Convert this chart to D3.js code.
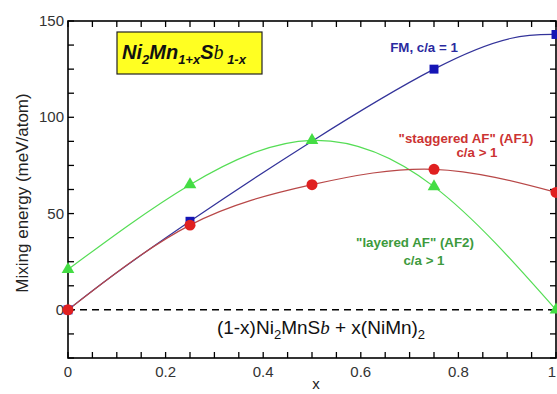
<!DOCTYPE html>
<html><head><meta charset="utf-8">
<script src="https://cdn.jsdelivr.net/npm/d3@7"></script>
<style>body{margin:0;background:#fff}svg{display:block}</style>
</head><body>
<svg id="c" width="557" height="394"></svg>
<script>
const xsFM = [0, 0.25, 0.75, 1];
const fmValues = [0, 46, 125, 143];
const xsAF1 = [0, 0.25, 0.5, 0.75, 1];
const af1Values = [0, 44, 65, 73, 61];
const xsAF2 = [0, 0.25, 0.5, 0.75, 1];
const af2Values = [21, 65, 88, 64, 0];
const xTickValues = [0, 0.2, 0.4, 0.6, 0.8, 1];
const xTickLabels = ["0", "0.2", "0.4", "0.6", "0.8", "1"];
const yTickValues = [0, 50, 100, 150];

const svg = d3.select("#c");
const L = 68, R = 556, T = 21, B = 358;
const x = d3.scaleLinear().domain([0, 1]).range([L, R]);
const y = d3.scaleLinear().domain([-25, 150]).range([B, T]);
const font = "Liberation Sans, Arial, sans-serif";

// zero dashed line
svg.append("line").attr("x1", L).attr("x2", R).attr("y1", y(0)).attr("y2", y(0))
  .attr("stroke", "#000").attr("stroke-width", 1.5).attr("stroke-dasharray", "7,5");

// ticks
const minorX = d3.range(0, 1.0001, 0.05);
const minorY = d3.range(-25, 150.001, 12.5);
const g = svg.append("g");
minorX.forEach(v => {
  g.append("line").attr("x1", x(v)).attr("x2", x(v)).attr("y1", B).attr("y2", B - 6).attr("stroke", "#000").attr("stroke-width", 1.3);
  g.append("line").attr("x1", x(v)).attr("x2", x(v)).attr("y1", T).attr("y2", T + 6).attr("stroke", "#000").attr("stroke-width", 1.3);
});
minorY.forEach(v => {
  g.append("line").attr("x1", L).attr("x2", L + 6).attr("y1", y(v)).attr("y2", y(v)).attr("stroke", "#000").attr("stroke-width", 1.3);
  g.append("line").attr("x1", R).attr("x2", R - 6).attr("y1", y(v)).attr("y2", y(v)).attr("stroke", "#000").attr("stroke-width", 1.3);
});
svg.append("rect").attr("x", L).attr("y", T).attr("width", R - L).attr("height", B - T)
  .attr("fill", "none").attr("stroke", "#000").attr("stroke-width", 1.6);

// tick labels
xTickValues.forEach((v, i) => {
  const last = i === xTickValues.length - 1;
  svg.append("text").attr("x", last ? 556 : x(v)).attr("y", 377).attr("text-anchor", last ? "end" : "middle")
    .attr("font-family", font).attr("font-size", 15).attr("fill", "#333").text(xTickLabels[i]);
});
yTickValues.forEach(v => {
  svg.append("text").attr("x", L - 4).attr("y", y(v) + 5).attr("text-anchor", "end")
    .attr("font-family", font).attr("font-size", 15).attr("fill", "#333").text(v);
});

// axis titles
svg.append("text").attr("transform", `translate(28,${193}) rotate(-90)`).attr("text-anchor", "middle")
  .attr("font-family", font).attr("font-size", 17).attr("fill", "#222").text("Mixing energy (meV/atom)");
svg.append("text").attr("x", 316).attr("y", 389).attr("text-anchor", "middle")
  .attr("font-family", font).attr("font-size", 15).attr("fill", "#222").text("x");

// curves
const line = d3.line().x(d => x(d[0])).y(d => y(d[1])).curve(d3.curveNatural);
const series = [
  {xs: xsAF2, ys: af2Values, line: "#55dd55", fill: "#44dd44", type: "tri"},
  {xs: xsFM, ys: fmValues, line: "#33339a", fill: "#1515b5", type: "sq"},
  {xs: xsAF1, ys: af1Values, line: "#b84848", fill: "#e02020", type: "circ"}
];
series.forEach(s => {
  const pts = s.xs.map((v, i) => [v, s.ys[i]]);
  svg.append("path").attr("d", line(pts)).attr("fill", "none").attr("stroke", s.line).attr("stroke-width", 1.2);
});
series.forEach(s => {
  const pts = s.xs.map((v, i) => [v, s.ys[i]]);
  const sym = s.type === "tri" ? d3.symbolTriangle : s.type === "circ" ? d3.symbolCircle : d3.symbolSquare;
  const size = s.type === "tri" ? 70 : s.type === "circ" ? 95 : 80;
  svg.selectAll(null).data(pts).enter().append("path")
    .attr("d", d3.symbol().type(sym).size(size))
    .attr("transform", d => `translate(${x(d[0])},${y(d[1])})`)
    .attr("fill", s.fill);
});

// title box
svg.append("rect").attr("x", 117).attr("y", 32).attr("width", 145).attr("height", 42)
  .attr("fill", "#ffff22").attr("stroke", "#222").attr("stroke-width", 1.2);
const t = svg.append("text").attr("x", 122).attr("y", 59).attr("font-family", font)
  .attr("font-weight", "bold").attr("font-style", "italic").attr("font-size", 20).attr("fill", "#111");
t.append("tspan").text("Ni");
t.append("tspan").attr("dy", 5).attr("font-size", 13).text("2");
t.append("tspan").attr("dy", -5).text("Mn");
t.append("tspan").attr("dy", 5).attr("font-size", 13).text("1+x");
t.append("tspan").attr("dy", -5).text("S");
t.append("tspan").attr("font-family", "Liberation Serif, serif").attr("font-weight", "normal").text("b");
t.append("tspan").attr("dy", 5).attr("font-size", 13).text(" 1-x");

// series labels
const lab = (txt, cx, by, col) => svg.append("text").attr("x", cx).attr("y", by).attr("text-anchor", "middle")
  .attr("font-family", font).attr("font-weight", "bold").attr("font-size", 13.3).attr("fill", col).text(txt);
lab("FM, c/a = 1", 424, 52, "#2a2aa0");
lab("\"staggered AF\" (AF1)", 466, 143, "#cc3333");
lab("c/a > 1", 477, 157, "#cc3333");
lab("\"layered AF\" (AF2)", 415, 247, "#3d9a3d");
lab("c/a > 1", 424, 265, "#3d9a3d");

// formula
const f = svg.append("text").attr("x", 321).attr("y", 334).attr("text-anchor", "middle")
  .attr("font-family", font).attr("font-size", 19).attr("fill", "#111");
f.append("tspan").text("(1-x)Ni");
f.append("tspan").attr("dy", 5).attr("font-size", 13).text("2");
f.append("tspan").attr("dy", -5).text("MnS");
f.append("tspan").attr("font-style", "italic").attr("font-family", "Liberation Serif, serif").text("b");
f.append("tspan").text(" + x(NiMn)");
f.append("tspan").attr("dy", 5).attr("font-size", 13).text("2");
</script>
</body></html>
